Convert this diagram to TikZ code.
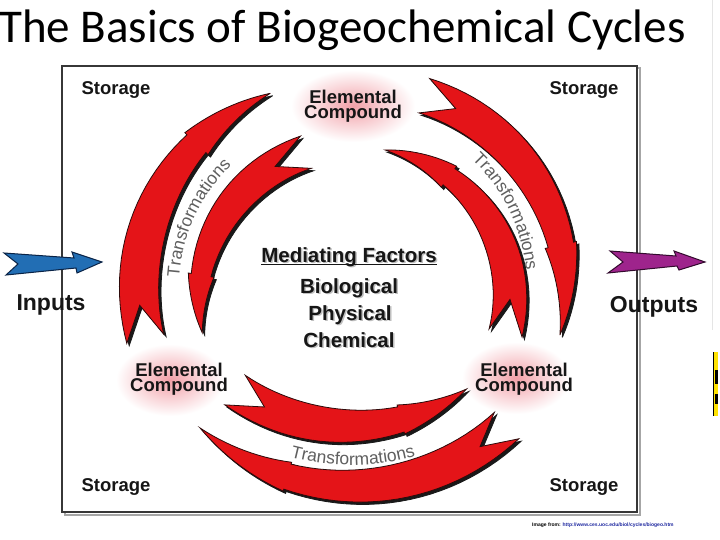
\documentclass[tikz,border=0pt]{standalone}
\usepackage{fontspec}
\setmainfont{Liberation Sans}
\newfontfamily\titlefont{Carlito}
\usetikzlibrary{decorations.text,calc}
\definecolor{arrowred}{RGB}{228,20,24}
\definecolor{arrowedge}{RGB}{45,10,10}
\definecolor{shadowgray}{RGB}{25,25,25}
\definecolor{glowpink}{RGB}{242,160,168}
\definecolor{inblue}{RGB}{34,110,180}
\definecolor{inblueedge}{RGB}{10,35,70}
\definecolor{outpurple}{RGB}{158,36,140}
\definecolor{outpurpleedge}{RGB}{50,10,45}
\definecolor{txt}{RGB}{22,22,22}
\definecolor{tgray}{RGB}{95,95,95}
\definecolor{urlblue}{RGB}{30,40,160}
\definecolor{framegray}{RGB}{55,55,55}

\def\bulge{0}
\def\notchdepth{34}
\newcommand\swoosh[9]{%
  \def\swcx{#1}\def\swcy{#2}\def\swr{#3}\def\swa{#4}\def\swb{#5}%
  \def\swwt{#6}\def\swws{#7}\def\swwh{#8}\def\swh{#9}%
  \pgfmathsetmacro\swsgn{ifthenelse(\swb>\swa,1,-1)}%
  \pgfmathsetmacro\swaH{\swa+(\swb-\swa)*\swh}%
  \pgfmathsetmacro\swaN{\swa+\swsgn*\notchdepth/\swr*57.2958}%
  \foreach \off/\fc/\dc in {2.4/shadowgray/shadowgray,0/arrowred/arrowedge}{%
    \path[fill=\fc, draw=\dc, line width=0.8, shift={(\off,\off)}]
      ({\swcx+(\swr+\swwt/2)*cos(\swa)},{\swcy+(\swr+\swwt/2)*sin(\swa)})
      -- plot[variable=\sv,domain=0:\swh,samples=25]
         ({\swcx+(\swr+(\swwt+(\swws-\swwt)*\sv/\swh+\bulge*sin(180*\sv/\swh))/2)*cos(\swa+(\swb-\swa)*\sv)},{\swcy+(\swr+(\swwt+(\swws-\swwt)*\sv/\swh+\bulge*sin(180*\sv/\swh))/2)*sin(\swa+(\swb-\swa)*\sv)})
      -- ({\swcx+(\swr+\swwh/2)*cos(\swaH)},{\swcy+(\swr+\swwh/2)*sin(\swaH)})
      -- plot[variable=\sv,domain=\swh:1,samples=15]
         ({\swcx+(\swr+\swwh/2*(1-\sv)/(1-\swh))*cos(\swa+(\swb-\swa)*\sv)},{\swcy+(\swr+\swwh/2*(1-\sv)/(1-\swh))*sin(\swa+(\swb-\swa)*\sv)})
      -- plot[variable=\sv,domain=1:\swh,samples=15]
         ({\swcx+(\swr-\swwh/2*(1-\sv)/(1-\swh))*cos(\swa+(\swb-\swa)*\sv)},{\swcy+(\swr-\swwh/2*(1-\sv)/(1-\swh))*sin(\swa+(\swb-\swa)*\sv)})
      -- plot[variable=\sv,domain=\swh:0,samples=25]
         ({\swcx+(\swr-(\swwt+(\swws-\swwt)*\sv/\swh+\bulge*sin(180*\sv/\swh))/2)*cos(\swa+(\swb-\swa)*\sv)},{\swcy+(\swr-(\swwt+(\swws-\swwt)*\sv/\swh+\bulge*sin(180*\sv/\swh))/2)*sin(\swa+(\swb-\swa)*\sv)})
      -- ({\swcx+\swr*cos(\swaN)},{\swcy+\swr*sin(\swaN)})
      -- cycle;
  }%
}

\begin{document}
\begin{tikzpicture}[x=1pt,y=-1pt,
  ec/.style={font=\bfseries\fontsize{18.5}{15.5}\selectfont, text=txt, inner sep=0pt, align=center},
  st/.style={font=\bfseries\fontsize{18.5}{18.5}\selectfont, text=txt, inner sep=0pt},
  mf/.style={font=\bfseries\fontsize{20.5}{20.5}\selectfont, text=txt, inner sep=0pt},
  io/.style={font=\bfseries\fontsize{23}{23}\selectfont, text=txt, inner sep=0pt},
  tr/.style={decorate, decoration={text along path, text align=center,
     text={|\fontsize{17.5}{17.5}\selectfont\color{tgray}|Transformations}}}]
\useasboundingbox (0,0) rectangle (720,540);
\fill[white] (0,0) rectangle (720,540);

% title
\node[anchor=base west, inner sep=0pt, font=\titlefont\fontsize{47}{47}\selectfont] (title) at (-1,43) {The Basics of Biogeochemical Cycles};

% frame
\draw[black!35, line width=2] (64.5,68.5) rectangle (639.5,514.5);
\draw[framegray, line width=1.8, fill=white] (62,66) rectangle (637,512);

% glows
\shade[inner color=glowpink, outer color=white] (353,106) ellipse[x radius=62, y radius=36];
\shade[inner color=glowpink, outer color=white] (170,380) ellipse[x radius=54, y radius=36];
\shade[inner color=glowpink, outer color=white] (516,378) ellipse[x radius=54, y radius=36];

% red arrows
\def\bulge{6}\swoosh{349}{288}{210}{166}{248}{38}{26}{32}{0.70}
\def\bulge{4}\swoosh{356}{301}{157}{251.4}{168.3}{34}{20}{26}{0.745}
\def\bulge{4}\swoosh{364}{288}{201.5}{287.4}{373.5}{36}{26}{32}{0.70}
\def\bulge{4}\swoosh{361}{297}{149}{374}{279.3}{34}{20}{26}{0.716}
\def\bulge{4}\swoosh{350}{224}{202}{124.7}{54.8}{36}{26}{30}{0.705}
\def\bulge{4}\swoosh{352}{258}{228}{47.3}{131.8}{36}{26}{30}{0.70}

% transformations labels
\path[tr] (179.2,296.9) arc[start angle=177, end angle=233, radius=170];
\path[tr] (451.1,142.2) arc[start angle=305, end angle=363, radius=178];
\path[tr] (269.9,450.7) arc[start angle=110, end angle=69, radius=237];

% compounds
\node[ec] (ctop) at (353,106) {Elemental\\Compound};
\node[ec] (cleft) at (179,379) {Elemental\\Compound};
\node[ec] (cright) at (524,379) {Elemental\\Compound};

% storage
\node[st, anchor=base] (s1) at (116,95) {Storage};
\node[st, anchor=base] (s2) at (584,95) {Storage};
\node[st, anchor=base] (s3) at (116,491) {Storage};
\node[st, anchor=base] (s4) at (584,491) {Storage};

% mediating factors
\node[mf, anchor=base, text=black!25] at (350.5,263.5) {Mediating Factors};
\node[mf, anchor=base, text=black!25] at (350.5,294.5) {Biological};
\node[mf, anchor=base, text=black!25] at (351.5,321.5) {Physical};
\node[mf, anchor=base, text=black!25] at (350.5,348.5) {Chemical};
\node[mf, anchor=base] (med) at (349,262) {Mediating Factors};
\draw[txt, line width=1.5] ($(med.base west)+(0,2.4)$) -- ($(med.base east)+(0,2.4)$);
\node[mf, anchor=base] (bio) at (349,293) {Biological};
\node[mf, anchor=base] (phy) at (350,320) {Physical};
\node[mf, anchor=base] (che) at (349,347) {Chemical};

% input / output arrows
\draw[fill=inblue, draw=inblueedge, line width=1, line join=miter]
  (4,253) -- (74,258) -- (72,252) -- (102,262) -- (77,273) -- (76,268) -- (6,275) -- (18,264) -- cycle;
\draw[fill=outpurple, draw=outpurpleedge, line width=1, line join=miter]
  (610,251) -- (676,256) -- (674,251) -- (705,262) -- (679,270) -- (677,266) -- (608,273) -- (623,262) -- cycle;
\node[io, anchor=base] (inp) at (51,310) {Inputs};
\node[io, anchor=base] (outp) at (654,312) {Outputs};

% credit
\node[anchor=base west, inner sep=0pt, font=\bfseries\fontsize{5}{5}\selectfont] (credit) at (532,526)
  {Image from: \textcolor{urlblue}{http://www.ces.uoc.edu/biol/cycles/biogeo.htm}};

% right-edge fragment
\draw[black!10, line width=0.8] (712,0) -- (712,330);
\fill[yellow!85!orange] (713,352) rectangle (718,416);
\fill[black] (713,352) rectangle (714,416);
\fill[black] (715,370) rectangle (718,384);
\fill[black] (715,394) rectangle (718,404);
\end{tikzpicture}
\end{document}
